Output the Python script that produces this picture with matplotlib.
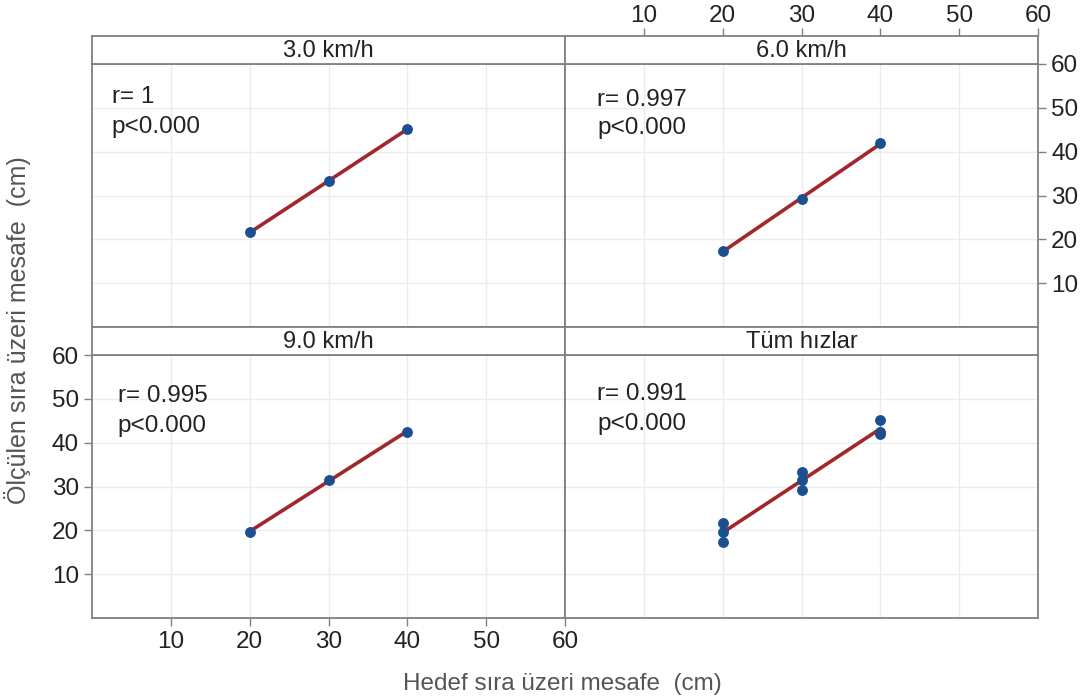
import numpy as np
import matplotlib
matplotlib.use("Agg")
import matplotlib.pyplot as plt

plt.rcParams['font.family'] = ['Liberation Sans', 'DejaVu Sans']

# data
target = [20, 30, 40]
speed_3 = [21.6, 33.2, 45.2]
speed_6 = [17.3, 29.2, 41.9]
speed_9 = [19.6, 31.5, 42.5]
panel_titles = ["3.0 km/h", "6.0 km/h", "9.0 km/h", "Tüm hızlar"]
r_labels = ["r= 1", "r= 0.997", "r= 0.995", "r= 0.991"]
p_labels = ["p<0.000", "p<0.000", "p<0.000", "p<0.000"]
ticks = [10, 20, 30, 40, 50, 60]

all_x = target * 3
all_y = speed_3 + speed_6 + speed_9
series = [(target, speed_3), (target, speed_6), (target, speed_9), (all_x, all_y)]

# label anchor per panel (data coords)
lab_x = [2.5, 4.1, 3.25, 4.1]
lab_ry = [52.4, 51.9, 50.6, 51.1]
lab_py = [45.6, 45.4, 43.8, 44.3]

W, H = 1088, 699
frame_col = "#808080"
pt_col = "#1c4f8f"
ln_col = "#a3262a"
txt_col = "#222222"
fs_tick = 17.5
fs_lab = 17.5

fig = plt.figure(figsize=(W / 100, H / 100), dpi=100)


def rect(x0, y0, x1, y1):
    return [x0 / W, 1 - y1 / H, (x1 - x0) / W, (y1 - y0) / H]


def no_ticks(a):
    a.tick_params(bottom=False, top=False, left=False, right=False,
                  labelbottom=False, labeltop=False, labelleft=False, labelright=False)


cols = [(92, 565), (565, 1038)]
rows = [(36, 64, 327), (327, 355, 618)]

for i in range(4):
    r, c = divmod(i, 2)
    x0, x1 = cols[c]
    s0, p0, p1 = rows[r]

    ax = fig.add_axes(rect(x0, p0, x1, p1))
    ax.set_xlim(0, 60)
    ax.set_ylim(0, 60)
    for v in ticks[:-1]:
        ax.axvline(v, color="#ececec", lw=1, zorder=0)
        ax.axhline(v, color="#ececec", lw=1, zorder=0)
    for sp in ax.spines.values():
        sp.set_color(frame_col)
        sp.set_linewidth(1.3)

    xs, ys = series[i]
    k, b = np.polyfit(xs, ys, 1)
    xl = np.array([min(xs), max(xs)])
    ax.plot(xl, k * xl + b, color=ln_col, lw=2.6, zorder=2)
    ax.plot(xs, ys, "o", color=pt_col, ms=6.8, zorder=3)

    ax.text(lab_x[i], lab_ry[i], r_labels[i], fontsize=fs_lab, color=txt_col, va="center")
    ax.text(lab_x[i], lab_py[i], p_labels[i], fontsize=fs_lab, color=txt_col, va="center")

    ax.set_xticks(ticks)
    ax.set_yticks(ticks)
    ax.tick_params(colors=frame_col, labelcolor=txt_col, labelsize=fs_tick,
                   length=6, width=1, direction="out")
    no_ticks(ax)
    if i == 1:
        ax.tick_params(right=True, labelright=True)
    if i == 2:
        ax.tick_params(bottom=True, labelbottom=True, left=True, labelleft=True)

    # strip on top of each panel
    sax = fig.add_axes(rect(x0, s0, x1, p0))
    sax.set_xlim(0, 60)
    sax.set_yticks([])
    sax.set_facecolor("white")
    for sp in sax.spines.values():
        sp.set_color(frame_col)
        sp.set_linewidth(1.3)
    sax.set_xticks(ticks)
    sax.tick_params(colors=frame_col, labelcolor=txt_col, labelsize=fs_tick,
                    length=6, width=1, direction="out", pad=0.5)
    no_ticks(sax)
    if i == 1:
        sax.tick_params(top=True, labeltop=True)
    sax.text(0.5, 0.45, panel_titles[i], transform=sax.transAxes,
             ha="center", va="center", fontsize=17, color=txt_col)

fig.text(562 / W, 1 - 684 / H, "Hedef sıra üzeri mesafe  (cm)", ha="center", va="center",
         fontsize=17.5, color="#555555")
fig.text(18 / W, 1 - 330 / H, "Ölçülen sıra üzeri mesafe  (cm)", ha="center", va="center",
         rotation=90, fontsize=18, color="#555555")

fig.savefig("out.png", dpi=100, facecolor="white")
